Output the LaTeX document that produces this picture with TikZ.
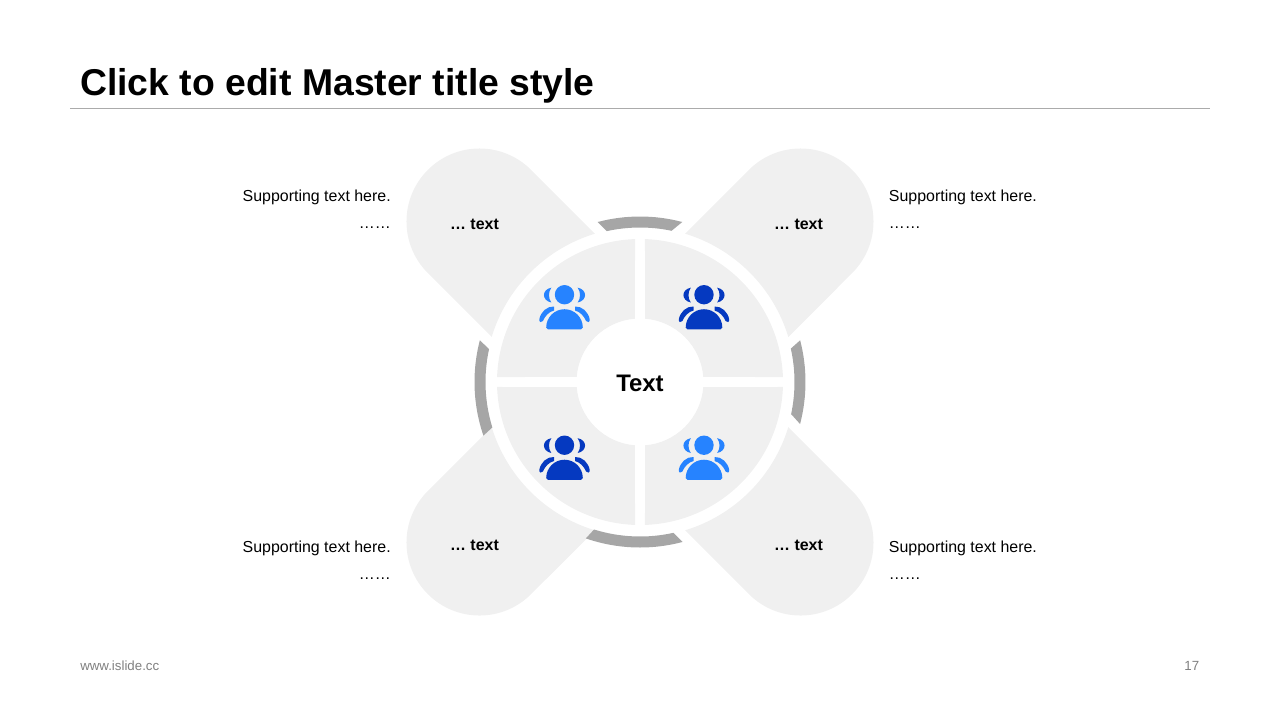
\documentclass[tikz,border=0pt]{standalone}
\usepackage{fontspec}
\setmainfont{Liberation Sans}
\definecolor{ink}{HTML}{000000}
\definecolor{muted}{HTML}{7F7F7F}
\definecolor{hair}{HTML}{ABABAB}
\definecolor{petalgray}{HTML}{F0F0F0}
\definecolor{ringgray}{HTML}{A6A6A6}
\definecolor{bluelight}{HTML}{2683FF}
\definecolor{bluedark}{HTML}{0539C0}
\tikzset{
  lab/.style={inner sep=0pt, text=ink, font=\fontsize{12}{14}\selectfont},
  tag/.style={lab, font=\fontsize{12}{14}\selectfont\bfseries},
  foot/.style={inner sep=0pt, text=muted, font=\fontsize{10}{12}\selectfont},
  petal/.style={fill=petalgray},
  ring/.style={fill=ringgray},
  people/.pic={
    \fill (0,13.8) circle[radius=9.7];
    \fill (-18.3,-19) arc[start angle=180, end angle=0, radius=18.3] -- (18.3,-19)
      to[out=-90, in=0] (16.5,-20.8) -- (-16.5,-20.8) to[out=180, in=-90] cycle;
    \foreach \s in {-1,1} {
      \fill[xscale=\s] (-13.2,20.8) .. controls (-23,19) and (-23,8) .. (-13.2,6)
        .. controls (-16.3,10) and (-16.3,16.8) .. cycle;
      \fill[xscale=\s] (-10.5,2) .. controls (-17.5,2.5) and (-24,-3.5) .. (-25.2,-11)
        .. controls (-25.5,-13.8) and (-22.8,-14.5) .. (-21.6,-12.5)
        .. controls (-19.5,-7.5) and (-15.5,-3.2) .. (-10.5,-2) -- cycle;
    }
  },
}
\begin{document}
\begin{tikzpicture}[x=0.75bp, y=0.75bp]
  \useasboundingbox (-640,-338) rectangle (640,382);
  % header and footer
  \node[inner sep=0pt, anchor=west, text=ink, font=\fontsize{28.1}{32}\selectfont\bfseries] (title) at (-560,296.5) {Click to edit Master title style};
  \coordinate (ruleleft) at (-570,274);
  \coordinate (ruleright) at (570,274);
  \draw[hair, line width=0.75bp] (ruleleft) -- (ruleright);
  \node[foot, anchor=west] (site) at (-560,-284) {www.islide.cc};
  \node[foot, anchor=east] (page) at (559.5,-284) {17};
  % petals and ring pieces
  \foreach \r in {45,135,225,315} {
    \fill[petal, rotate=\r] (28.1:155) -- (227,73) arc[start angle=90, end angle=-90, radius=73]
      -- (-28.1:155) arc[start angle=-28.1, end angle=28.1, radius=155] -- cycle;
  }
  \foreach \a/\b/\c/\d in {75.2/104.8/102.4/78.2, 165.4/198.9/197.1/167.7, 250.9/284.9/282.5/252.7, -14.7/14.6/12.5/-12} {
    \fill[ring] (\a:165.5) arc[start angle=\a, end angle=\b, radius=165.5]
      -- (\c:154.5) arc[start angle=\c, end angle=\d, radius=154.5] -- cycle;
  }
  % inner sectors
  \foreach \r in {0,90,180,270} {
    \fill[petal, rotate=\r] (2:143) arc[start angle=2, end angle=88, radius=143]
      -- (85.45:63.5) arc[start angle=85.45, end angle=4.55, radius=63.5] -- cycle;
  }
  \pic[color=bluelight] at (-75.5,73.5) {people};
  \pic[color=bluedark] at (64,73.5) {people};
  \pic[color=bluedark] at (-75.5,-77) {people};
  \pic[color=bluelight] at (64,-77) {people};
  \node[tag, font=\fontsize{18}{22}\selectfont\bfseries] (hub) at (0,-1) {Text};
  % labels
  \node[tag] (tagtl) at (-165.5,157.5) {… text};
  \node[tag] (tagtr) at (158.5,157.5) {… text};
  \node[tag] (tagbl) at (-165.5,-163.5) {… text};
  \node[tag] (tagbr) at (158.5,-163.5) {… text};
  \node[lab, anchor=east] (suptl) at (-249,185) {Supporting text here.};
  \node[lab, anchor=east] (dotstl) at (-249,154.5) {……};
  \node[lab, anchor=west] (suptr) at (248.7,185) {Supporting text here.};
  \node[lab, anchor=west] (dotstr) at (248.7,154.5) {……};
  \node[lab, anchor=east] (supbl) at (-249,-166) {Supporting text here.};
  \node[lab, anchor=east] (dotsbl) at (-249,-196.5) {……};
  \node[lab, anchor=west] (supbr) at (248.7,-166) {Supporting text here.};
  \node[lab, anchor=west] (dotsbr) at (248.7,-196.5) {……};
\end{tikzpicture}
\end{document}
